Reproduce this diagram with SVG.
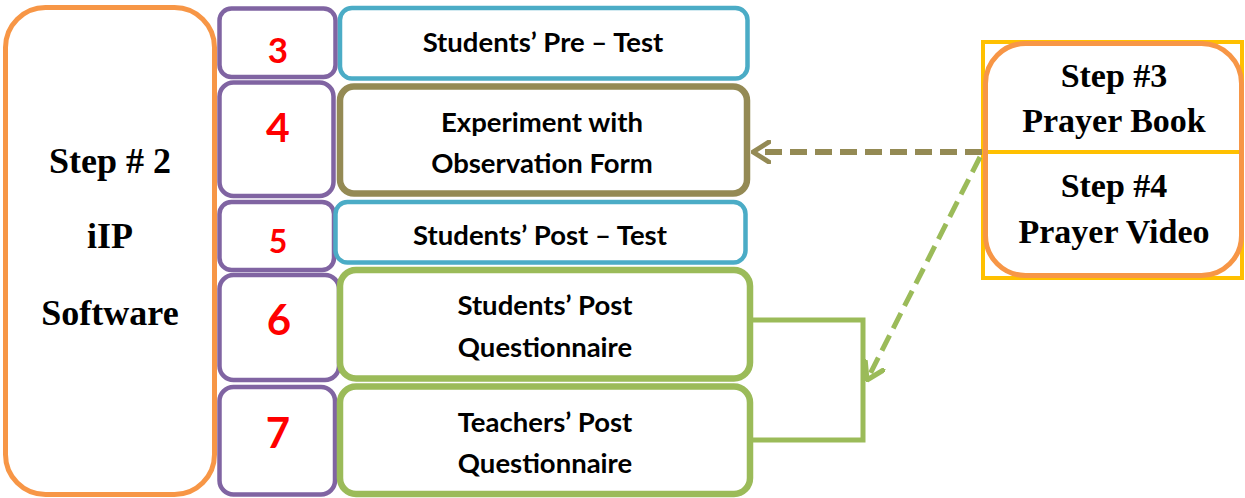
<svg xmlns="http://www.w3.org/2000/svg" width="1245" height="498" viewBox="0 0 1245 498">
<style>
.bg{fill:#fff}
.orange{fill:#fff;stroke:#F79646;stroke-width:5}
.purple{fill:#fff;stroke:#8064A2;stroke-width:4.5}
.blue{fill:#fff;stroke:#4BACC6;stroke-width:4.5}
.olive{fill:#fff;stroke:#948A54;stroke-width:6.5}
.green{fill:#fff;stroke:#9BBB59;stroke-width:6.5}
.tnr{font-family:"Liberation Serif","Times New Roman",serif;font-weight:bold;fill:#000;text-anchor:middle}
.lbl{font-family:Lato,"Open Sans",sans-serif;font-weight:bold;fill:#000;text-anchor:middle;font-size:27.5px}
.num{font-family:Lato,"Open Sans",sans-serif;font-weight:bold;fill:#FF0000;text-anchor:middle}
</style>
<defs>
<marker id="arrOlive" viewBox="0 0 20 24" refX="18" refY="12" markerWidth="20" markerHeight="24" markerUnits="userSpaceOnUse" orient="auto">
<polyline points="2,2 18,12 2,22" fill="none" stroke="#948A54" stroke-width="5" stroke-linecap="round" stroke-linejoin="round"/>
</marker>
<marker id="arrGreen" viewBox="0 0 20 24" refX="18" refY="12" markerWidth="20" markerHeight="24" markerUnits="userSpaceOnUse" orient="auto">
<polyline points="2,2 18,12 2,22" fill="none" stroke="#9BBB59" stroke-width="5" stroke-linecap="round" stroke-linejoin="round"/>
</marker>
</defs>
<rect class="bg" x="0" y="0" width="1245" height="498"/>

<g id="step2">
<rect class="orange" x="5.5" y="7.5" width="209" height="487" rx="40"/>
<text class="tnr" x="110" y="173" font-size="36">Step # 2</text>
<text class="tnr" x="110" y="248" font-size="36">iIP</text>
<text class="tnr" x="110" y="325" font-size="36">Software</text>
</g>

<g id="n3">
<rect class="purple" x="219.5" y="8.5" width="116" height="68.5" rx="12"/>
<text class="num" x="278" y="63" font-size="35">3</text>
</g>
<g id="n4">
<rect class="purple" x="219.5" y="82.5" width="114" height="113.5" rx="14"/>
<text class="num" x="278" y="142" font-size="41">4</text>
</g>
<g id="n5">
<rect class="purple" x="219.5" y="202" width="114.5" height="68" rx="12"/>
<text class="num" x="278" y="253" font-size="32">5</text>
</g>
<g id="n6">
<rect class="purple" x="219.5" y="275" width="119.5" height="105" rx="14"/>
<text class="num" x="279" y="335" font-size="42">6</text>
</g>
<g id="n7">
<rect class="purple" x="219.5" y="387" width="115.5" height="107.5" rx="14"/>
<text class="num" x="278" y="448" font-size="42">7</text>
</g>

<g id="pretest">
<rect class="blue" x="340" y="8" width="407.5" height="70.5" rx="12"/>
<text class="lbl" x="543" y="52">Students’ Pre – Test</text>
</g>
<g id="experiment">
<rect class="olive" x="340" y="86.5" width="407" height="107" rx="14"/>
<text class="lbl" x="542" y="132">Experiment with</text>
<text class="lbl" x="542" y="173">Observation Form</text>
</g>
<g id="posttest">
<rect class="blue" x="335.5" y="202" width="410" height="60.5" rx="12"/>
<text class="lbl" x="540" y="245">Students’ Post – Test</text>
</g>
<g id="spq">
<rect class="green" x="340" y="270" width="410" height="108.5" rx="16"/>
<text class="lbl" x="545" y="315">Students’ Post</text>
<text class="lbl" x="545" y="357">Questionnaire</text>
</g>
<g id="tpq">
<rect class="green" x="340" y="386.5" width="410" height="107.5" rx="16"/>
<text class="lbl" x="545" y="432">Teachers’ Post</text>
<text class="lbl" x="545" y="473">Questionnaire</text>
</g>

<g id="step34">
<rect x="983" y="42" width="259" height="236" fill="#fff" stroke="#FFC000" stroke-width="4"/>
<line x1="983" y1="152" x2="1242" y2="152" stroke="#FFC000" stroke-width="4"/>
<rect x="985.5" y="43.5" width="256" height="232" rx="40" fill="none" stroke="#F79646" stroke-width="5"/>
<text class="tnr" x="1114" y="87" font-size="34">Step #3</text>
<text class="tnr" x="1114" y="132" font-size="34">Prayer Book</text>
<text class="tnr" x="1114" y="197" font-size="34">Step #4</text>
<text class="tnr" x="1114" y="243" font-size="34">Prayer Video</text>
</g>

<g id="connectors">
<line x1="982" y1="152" x2="753" y2="152" stroke="#948A54" stroke-width="6" stroke-dasharray="17,8" marker-end="url(#arrOlive)"/>
<polyline points="751,320 863,320 863,440 751,440" fill="none" stroke="#9BBB59" stroke-width="5"/>
<line x1="980" y1="157" x2="867" y2="380" stroke="#9BBB59" stroke-width="5" stroke-dasharray="17,8" marker-end="url(#arrGreen)"/>
</g>
</svg>
